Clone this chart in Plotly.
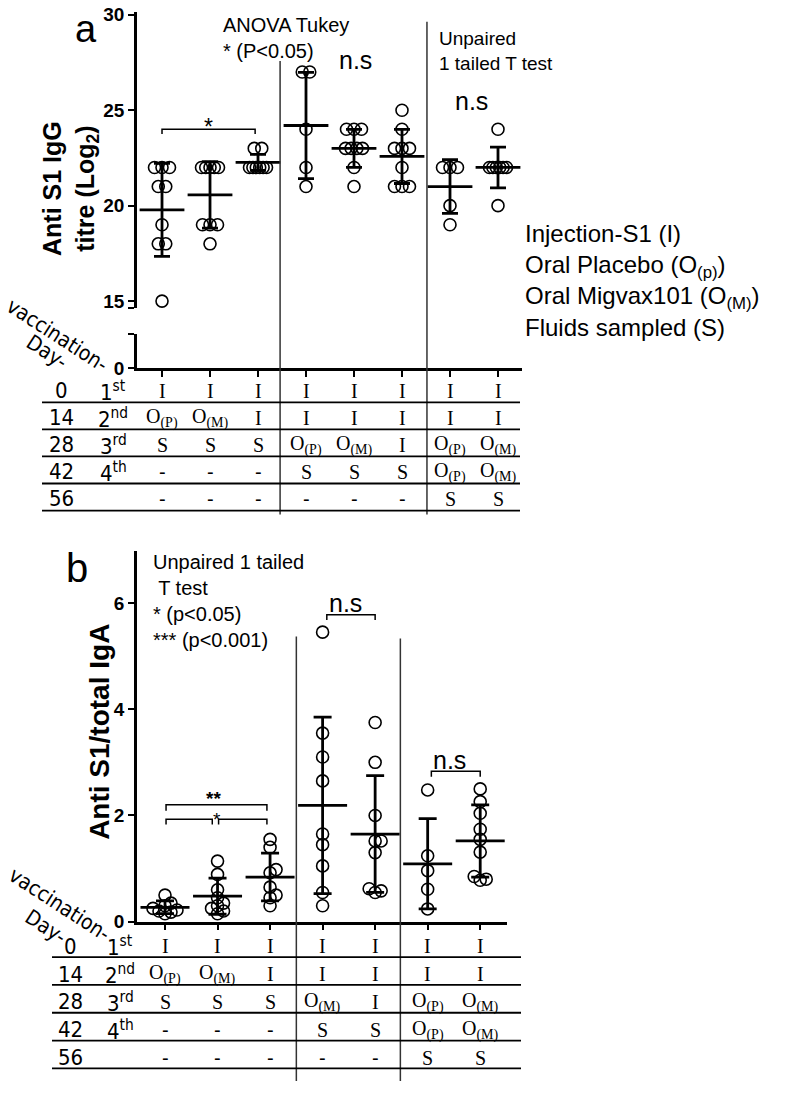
import plotly.graph_objects as go

W, H = 787, 1093

# ---- panel a: anti S1 IgG titre (log2), one list per group ----
a_values = [
    [22, 22, 22, 21, 21, 19, 18, 18, 15],
    [22, 22, 22, 22, 22, 19, 19, 19, 18],
    [23, 23, 22, 22, 22, 22, 22, 22],
    [27, 27, 24, 22, 21],
    [24, 24, 24, 23, 23, 23, 23, 22, 21],
    [25, 24, 23, 23, 23, 22, 21, 21, 21],
    [22, 22, 22, 20, 19],
    [24, 22, 22, 22, 22, 22, 22, 20],
]
a_mean = [19.78, 20.56, 22.27, 24.2, 23.0, 22.58, 21.0, 22.0]
a_sd = [2.44, 1.74, 0.42, 2.78, 1.0, 1.42, 1.41, 1.07]

# ---- panel b: anti S1 / total IgA ----
b_values = [
    [0.5, 0.35, 0.3, 0.25, 0.22, 0.2, 0.18, 0.15],
    [1.14, 0.89, 0.6, 0.45, 0.35, 0.3, 0.25, 0.2, 0.15],
    [1.55, 1.4, 0.98, 0.92, 0.65, 0.5, 0.45, 0.3],
    [5.45, 3.55, 3.1, 2.65, 1.65, 1.45, 1.05, 0.55, 0.3],
    [3.75, 3.0, 2.0, 1.52, 1.52, 1.3, 0.62, 0.58, 0.55],
    [2.48, 1.24, 0.96, 0.61, 0.24],
    [2.5, 2.26, 2.04, 1.74, 1.55, 1.31, 0.85, 0.8, 0.78],
]
b_mean = [0.27, 0.48, 0.84, 2.19, 1.65, 1.09, 1.52]
b_sd = [0.12, 0.34, 0.45, 1.66, 1.10, 0.85, 0.68]

# ---- schedule tables ----
days = ["0", "14", "28", "42", "56"]
vacc = ["1<sup>st</sup>", "2<sup>nd</sup>", "3<sup>rd</sup>", "4<sup>th</sup>", ""]
a_table = [
    ["I"] * 8,
    ["OP", "OM", "I", "I", "I", "I", "I", "I"],
    ["S", "S", "S", "OP", "OM", "I", "OP", "OM"],
    ["-", "-", "-", "S", "S", "S", "OP", "OM"],
    ["-", "-", "-", "-", "-", "-", "S", "S"],
]
b_table = [
    ["I"] * 7,
    ["OP", "OM", "I", "I", "I", "I", "I"],
    ["S", "S", "S", "OM", "I", "OP", "OM"],
    ["-", "-", "-", "S", "S", "OP", "OM"],
    ["-", "-", "-", "-", "-", "S", "S"],
]
legend_lines = ["Injection-S1 (I)", "Oral Placebo (O<sub>(p)</sub>)",
                "Oral Migvax101 (O<sub>(M)</sub>)", "Fluids sampled (S)"]
cell_txt = {"I": "I", "S": "S", "-": "-", "OP": "O<sub>(P)</sub>", "OM": "O<sub>(M)</sub>"}

SANS = "Liberation Sans, Arial"
NARROW = "DejaVu Sans Condensed, Liberation Sans Narrow, Liberation Sans, Arial"
SERIF = "Liberation Serif, Times New Roman"


def px(x):
    return x / W


def py(y):
    return 1 - y / H


# x scales (px per group unit)
A_XR = [0.479, 8.5]
A_DOM = [137, 522]
B_XR = [0.467, 7.51]
B_DOM = [137, 507]
a_xs = (A_DOM[1] - A_DOM[0]) / (A_XR[1] - A_XR[0])
b_xs = (B_DOM[1] - B_DOM[0]) / (B_XR[1] - B_XR[0])


def dup_spread(vals):
    # spread identical values sideways (px)
    offs = [0.0] * len(vals)
    groups = {}
    for i, v in enumerate(vals):
        groups.setdefault(v, []).append(i)
    for v, idx in groups.items():
        n = len(idx)
        if n > 1:
            step = min(7.5, 17.0 / (n - 1))
            for k, i in enumerate(idx):
                offs[i] = (k - (n - 1) / 2) * step
    return offs


def swarm(vals, ypx, step=6, min_d=6):
    placed = []
    offs = [0.0] * len(vals)
    for i in sorted(range(len(vals)), key=lambda j: vals[j]):
        y = vals[i] * ypx
        for c in (0, step, -step, 2 * step, -2 * step, 3 * step, -3 * step):
            if all((c - ox) ** 2 + (y - oy) ** 2 >= min_d ** 2 for ox, oy in placed):
                break
        placed.append((c, y))
        offs[i] = c
    return offs


fig = go.Figure()

# panel a points
ax, ay = [], []
for g, vals in enumerate(a_values):
    for v, o in zip(vals, dup_spread(vals)):
        ax.append(g + 1 + o / a_xs)
        ay.append(v)
fig.add_trace(go.Scatter(
    x=ax, y=ay, mode="markers", xaxis="x", yaxis="y",
    marker=dict(symbol="circle-open", size=12, color="black", line=dict(width=1.6)),
    showlegend=False, hoverinfo="skip"))
fig.add_trace(go.Scatter(
    x=list(range(1, len(a_mean) + 1)), y=a_mean, mode="markers", xaxis="x", yaxis="y",
    marker=dict(symbol="line-ew", size=32, color="black", line=dict(width=2.8, color="black")),
    error_y=dict(type="data", array=a_sd, visible=True, color="black", thickness=2.8, width=8),
    showlegend=False, hoverinfo="skip"))
# empty trace so the lower (broken) part of the y axis exists
fig.add_trace(go.Scatter(x=[None], y=[None], xaxis="x", yaxis="y2", mode="markers",
                         showlegend=False, hoverinfo="skip"))

# panel b points
bx, by = [], []
for g, vals in enumerate(b_values):
    for v, o in zip(vals, swarm(vals, 54.0)):
        bx.append(g + 1 + o / b_xs)
        by.append(v)
fig.add_trace(go.Scatter(
    x=bx, y=by, mode="markers", xaxis="x2", yaxis="y3",
    marker=dict(symbol="circle-open", size=12, color="black", line=dict(width=1.6)),
    showlegend=False, hoverinfo="skip"))
fig.add_trace(go.Scatter(
    x=list(range(1, len(b_mean) + 1)), y=b_mean, mode="markers", xaxis="x2", yaxis="y3",
    marker=dict(symbol="line-ew", size=35, color="black", line=dict(width=2.8, color="black")),
    error_y=dict(type="data", array=b_sd, visible=True, color="black", thickness=2.8, width=9),
    showlegend=False, hoverinfo="skip"))

axis_common = dict(showgrid=False, zeroline=False, showline=True, linecolor="black",
                   linewidth=2.5, ticks="outside", tickcolor="black", tickwidth=2, ticklen=6)
tickfont = dict(family=SANS, size=19, color="black", weight="bold")

a_top_lo = 15 - (306 - 299) / 19.4
fig.update_layout(
    width=W, height=H, margin=dict(l=0, r=0, t=0, b=0),
    paper_bgcolor="white", plot_bgcolor="white", showlegend=False,
    xaxis=dict(domain=[px(A_DOM[0]), px(A_DOM[1])], range=A_XR, anchor="y2",
               tickvals=list(range(1, 9)), showticklabels=False, **axis_common),
    yaxis=dict(domain=[py(306), py(5)], range=[a_top_lo, 30.15], anchor="x",
               tickvals=[a_top_lo, 15, 20, 25, 30], ticktext=["", "15", "20", "25", "30"],
               tickfont=tickfont, ticklabeloverflow="allow", **axis_common),
    yaxis2=dict(domain=[py(367), py(332)], range=[0, 35 / 19.4], anchor="x",
                tickvals=[0, 35 / 19.4], ticktext=["0", ""], tickfont=tickfont,
                ticklabeloverflow="allow", **axis_common),
    xaxis2=dict(domain=[px(B_DOM[0]), px(B_DOM[1])], range=B_XR, anchor="y3",
                tickvals=list(range(1, 8)), showticklabels=False, **axis_common),
    yaxis3=dict(domain=[py(930), py(553)], range=[0, 6.98], anchor="x2",
                tickvals=[0, 2, 4, 6], tickfont=tickfont, ticklabeloverflow="allow",
                **axis_common),
)

shapes = []
ann = []


def vline(xref, x, y0, y1, w=1.5, c="#333"):
    shapes.append(dict(type="line", xref=xref, yref="paper", x0=x, x1=x,
                       y0=py(y0), y1=py(y1), line=dict(color=c, width=w)))


def hline(y, x0, x1, w=1.8):
    shapes.append(dict(type="line", xref="paper", yref="paper", x0=px(x0), x1=px(x1),
                       y0=py(y), y1=py(y), line=dict(color="black", width=w)))


def bracket(xref, yref, x0, x1, y, drop):
    shapes.append(dict(type="path", xref=xref, yref=yref,
                       path=f"M {x0},{y - drop} L {x0},{y} L {x1},{y} L {x1},{y - drop}",
                       line=dict(color="black", width=1.5)))


def text(x, y, t, size, family=SANS, xanchor="center", yanchor="middle", xref="paper",
         angle=0, align="center", weight="normal"):
    ann.append(dict(x=px(x) if xref == "paper" else x, y=py(y), xref=xref, yref="paper",
                    text=t, showarrow=False, xanchor=xanchor, yanchor=yanchor,
                    textangle=angle, align=align, borderpad=0,
                    font=dict(family=family, size=size, color="black", weight=weight)))


# separators
vline("x", 3.46, 55, 516)
vline("x", 6.52, 15, 516)
vline("x2", 3.5, 640, 1092)
vline("x2", 5.48, 642, 1092)

# table rules
for i in range(5):
    hline(402 + 27.5 * i, 42, 520)
    hline(966 + 28.3 * i, 52, 521)

# significance brackets
bracket("x", "y", 1.0, 2.94, 24.0, 0.25)
bracket("x2", "y3", 1.02, 2.94, 2.2, 0.11)
bracket("x2", "y3", 1.02, 1.9, 1.93, 0.1)
bracket("x2", "y3", 2.02, 2.94, 1.93, 0.1)
bracket("x2", "y3", 4.08, 5.0, 5.78, 0.1)
bracket("x2", "y3", 6.07, 7.0, 2.83, 0.1)

# panel labels and titles
text(86, 0, "a", 38, yanchor="top")
text(77, 570, "b", 40)
text(71, 185, "Anti S1 IgG<br>titre (Log<sub>2</sub>)", 25, angle=-90, weight="bold")
text(100, 737, "Anti S1/total IgA", 28, angle=-90, weight="bold")

# statistics notes
text(222, 6, "ANOVA Tukey<br>* (P&lt;0.05)", 20, xanchor="left", yanchor="top", align="left")
text(355, 54, "n.s", 25)
text(438, 20, "Unpaired<br>1 tailed T test", 19, xanchor="left", yanchor="top", align="left")
text(471, 96, "n.s", 25)
text(209, 122, "*", 23)
text(152, 552, "Unpaired 1 tailed<br> T test<br>* (p&lt;0.05)<br>*** (p&lt;0.001)", 20,
     xanchor="left", yanchor="top", align="left")
text(213, 805, "**", 19, weight="bold")
text(217, 826, "*", 19)
text(345, 606, "n.s", 25)
text(450, 766, "n.s", 25)

# legend of symbols, one block so the lines keep their spacing
text(524, 278, "<br>".join(legend_lines), 24, xanchor="left", align="left")

# rotated column headers
text(57, 333, "vaccination-", 21, family=NARROW, angle=33)
text(47, 351, "Day-", 21, family=NARROW, angle=33)
text(59, 912, "vaccination-", 21, family=NARROW, angle=33)
text(46, 935, "Day-", 21, family=NARROW, angle=33)


def table(rows, xref, y0, dy, xday, xvac):
    for r, row in enumerate(rows):
        y = y0 + dy * r
        text(xday, y, days[r], 22, family=NARROW)
        if vacc[r]:
            text(xvac, y, vacc[r], 22, family=NARROW)
        for c, code in enumerate(row):
            fam = SANS if code == "-" else SERIF
            text(c + 1, y, cell_txt[code], 20, family=fam, xref=xref)


table(a_table, "x", 390, 27.5, 61, 113)
table(b_table, "x2", 955, 28.3, 70, 120)

fig.update_layout(shapes=shapes, annotations=ann)
# drop the browser's default 8px body margin so the figure sits at the page corner
fig.write_html("out.html", config={"displayModeBar": False},
               post_script="document.body.style.margin='0px';")
